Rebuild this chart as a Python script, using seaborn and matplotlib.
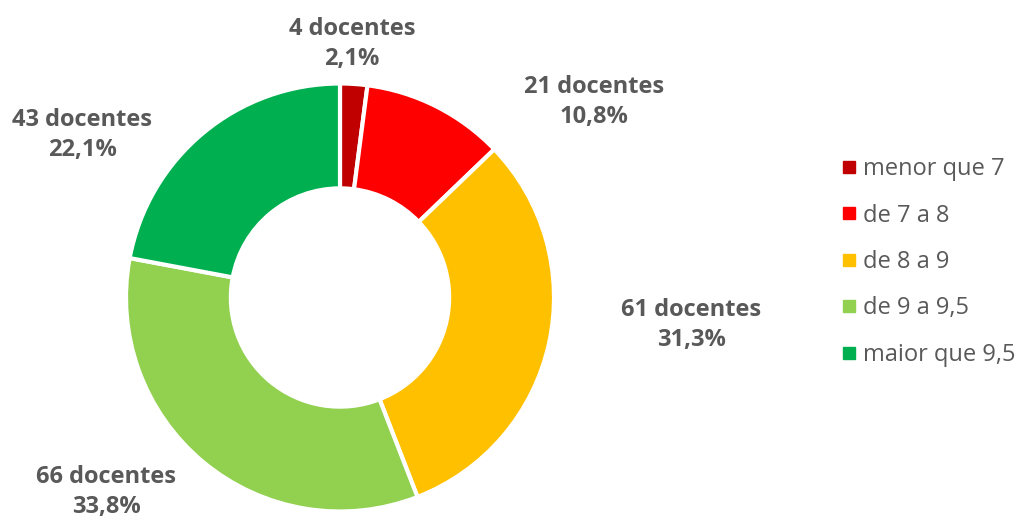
import matplotlib
matplotlib.use("Agg")
import matplotlib.pyplot as plt
from matplotlib.lines import Line2D
import seaborn as sns

categorias = ["menor que 7", "de 7 a 8", "de 8 a 9", "de 9 a 9,5", "maior que 9,5"]
docentes = [4, 21, 61, 66, 43]
percentuais = ["2,1%", "10,8%", "31,3%", "33,8%", "22,1%"]
cores = ["#C00000", "#FF0000", "#FFC000", "#92D050", "#00B050"]

# posicoes dos rotulos (pixels da figura, centro do bloco de texto)
rotulo_px = [(352, 44), (594, 102), (691, 325), (106, 492), (82, 135)]

sns.set_theme(style="white")
plt.rcParams['font.family'] = ['Open Sans', 'DejaVu Sans']

W, H = 1019, 521
fig = plt.figure(figsize=(W / 100, H / 100), dpi=100)

cx, cy, r = 340, 297.5, 214
ax = fig.add_axes([(cx - r) / W, (H - cy - r) / H, 2 * r / W, 2 * r / H])
wedges, _ = ax.pie(docentes, colors=cores, startangle=90, counterclock=False,
                   radius=1, wedgeprops=dict(width=0.49, edgecolor="white", linewidth=3))
ax.set_xlim(-1, 1)
ax.set_ylim(-1, 1)
ax.set_aspect("equal")
ax.axis("off")

cinza = "#595959"
for (px, py), n, p in zip(rotulo_px, docentes, percentuais):
    fig.text(px / W, 1 - py / H, f"{n} docentes\n{p}", ha="center", va="center",
             fontsize=17, fontweight="bold", color=cinza, linespacing=1.35)

handles = [Line2D([0], [0], marker="s", linestyle="", markersize=8,
                  markerfacecolor=c, markeredgecolor=c) for c in cores]
leg = fig.legend(handles, categorias, loc="center left",
                 bbox_to_anchor=(843 / W, 1 - 262 / H), frameon=False,
                 fontsize=17, labelcolor=cinza, handlelength=0.5,
                 handletextpad=0.35, labelspacing=0.95, borderpad=0,
                 borderaxespad=0)

fig.savefig("out.png", dpi=100)
